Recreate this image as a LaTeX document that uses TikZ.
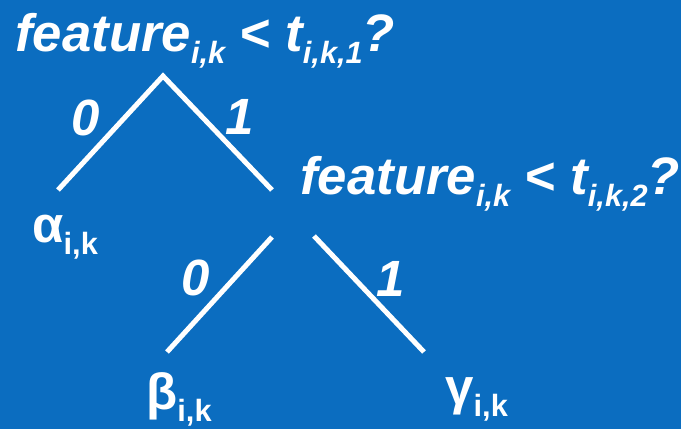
\documentclass[tikz,border=0pt]{standalone}
\usepackage{fontspec}
\setmainfont{Liberation Sans}
\definecolor{slideblue}{RGB}{11,109,192}
\newcommand{\sbs}[1]{\raisebox{-0.22em}{\fontsize{17.5}{17.5}\selectfont #1}}
\tikzset{
  question/.style = {anchor=base west, inner sep=0pt, text=white,
                     font=\fontsize{30}{30}\selectfont\bfseries\itshape},
  bit/.style = {anchor=center, inner sep=0pt, text=white,
                font=\fontsize{29}{29}\selectfont\bfseries\itshape},
  leaf/.style = {anchor=base west, inner sep=0pt, text=white,
                 font=\fontsize{29}{29}\selectfont\bfseries},
  edge/.style = {draw=white, line width=0.1cm, line join=miter}
}

\begin{document}
\begin{tikzpicture}[x=0.02cm, y=-0.02cm]
	% Background
	\fill[slideblue] (0,0) rectangle (681,429);
	\useasboundingbox (0,0) rectangle (681,429);

	% Questions
	\node[question] (q1) at (15,52) {feature\sbs{i,k} < t\sbs{i,k,1}?};
	\node[question] (q2) at (300,195) {feature\sbs{i,k} < t\sbs{i,k,2}?};

	% Leaves
	\node[leaf] (alpha) at (32,243) {α\sbs{i,k}};
	\node[leaf] (beta) at (146,410) {β\sbs{i,k}};
	\node[leaf] (gamma) at (445,405) {γ\sbs{i,k}};

	% Branch ends
	\coordinate (top1) at (163,76);
	\coordinate (left1) at (58,190);
	\coordinate (right1) at (272,190);
	\coordinate (top2l) at (272,237);
	\coordinate (left2) at (167,352);
	\coordinate (top2r) at (314,236);
	\coordinate (right2) at (424,352);

	% Branches
	\draw[edge] (left1) -- (top1) -- (right1);
	\draw[edge] (top2l) -- (left2);
	\draw[edge] (top2r) -- (right2);

	% Branch labels
	\node[bit] (no1) at (86,118) {0};
	\node[bit] (yes1) at (240,117) {1};
	\node[bit] (no2) at (196,278) {0};
	\node[bit] (yes2) at (391,279) {1};
\end{tikzpicture}
\end{document}
